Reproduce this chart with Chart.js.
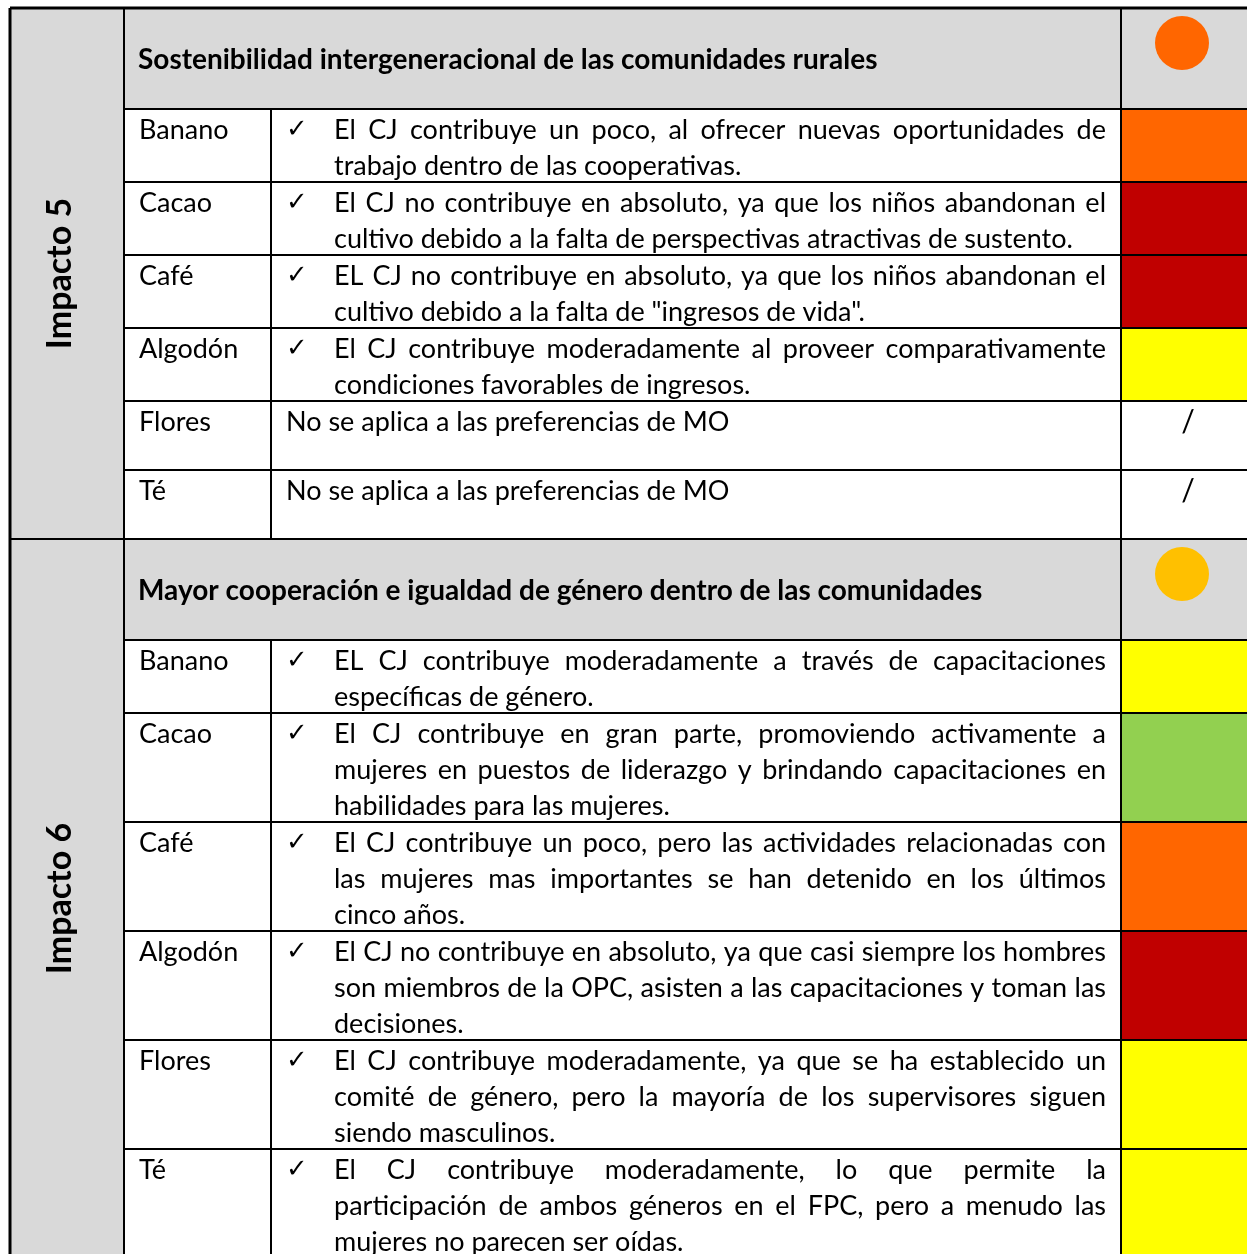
<!DOCTYPE html>
<html>
<head>
<meta charset="utf-8">
<script src="https://cdn.jsdelivr.net/npm/chart.js@4.4.1/dist/chart.umd.min.js"></script>
<style>
  html, body { margin: 0; padding: 0; background: #fff; }
  #wrap { width: 1247px; height: 1254px; position: relative; }
</style>
</head>
<body>
<div id="wrap"><canvas id="tabla"></canvas></div>
<script>
const ctx = document.getElementById('tabla');

// Data
const impactos = ['Impacto 5', 'Impacto 6'];
const titulos = [
    'Sostenibilidad intergeneracional de las comunidades rurales',
    'Mayor cooperación e igualdad de género dentro de las comunidades'
];
const nivelesImpacto = ['naranja', 'ambar'];
const productos = ['Banano', 'Cacao', 'Café', 'Algodón', 'Flores', 'Té'];

const textos5 = [
    ['El CJ contribuye un poco, al ofrecer nuevas oportunidades de', 'trabajo dentro de las cooperativas.'],
    ['El CJ no contribuye en absoluto, ya que los niños abandonan el', 'cultivo debido a la falta de perspectivas atractivas de sustento.'],
    ['EL CJ no contribuye en absoluto, ya que los niños abandonan el', 'cultivo debido a la falta de "ingresos de vida".'],
    ['El CJ contribuye moderadamente al proveer comparativamente', 'condiciones favorables de ingresos.'],
    ['No se aplica a las preferencias de MO'],
    ['No se aplica a las preferencias de MO']
];
const valoracion5 = ['naranja', 'rojo', 'rojo', 'amarillo', '/', '/'];

const textos6 = [
    ['EL CJ contribuye moderadamente a través de capacitaciones', 'específicas de género.'],
    ['El CJ contribuye en gran parte, promoviendo activamente a', 'mujeres en puestos de liderazgo y brindando capacitaciones en', 'habilidades para las mujeres.'],
    ['El CJ contribuye un poco, pero las actividades relacionadas con', 'las mujeres mas importantes se han detenido en los últimos', 'cinco años.'],
    ['El CJ no contribuye en absoluto, ya que casi siempre los hombres', 'son miembros de la OPC, asisten a las capacitaciones y toman las', 'decisiones.'],
    ['El CJ contribuye moderadamente, ya que se ha establecido un', 'comité de género, pero la mayoría de los supervisores siguen', 'siendo masculinos.'],
    ['El CJ contribuye moderadamente, lo que permite la', 'participación de ambos géneros en el FPC, pero a menudo las', 'mujeres no parecen ser oídas.']
];
const valoracion6 = ['amarillo', 'verde', 'naranja', 'rojo', 'amarillo', 'amarillo'];

const colores = {
    rojo: '#c00000',
    naranja: '#ff6600',
    amarillo: '#ffff00',
    verde: '#92d050',
    ambar: '#ffc000'
};

// layout (in scale units, 1 unit = 1 px)
const columnas = [10, 124, 271, 1121, 1247];
const altoLinea = 36;
const altoCabecera = 101;
const filaMinima = 69;
const FUENTE = 'Lato';
const TAM = 27;

const bloques = impactos.map((nombre, i) => ({
    nombre: nombre,
    titulo: titulos[i],
    nivel: nivelesImpacto[i],
    textos: [textos5, textos6][i],
    valores: [valoracion5, valoracion6][i]
}));

const filas = [];
let cursor = 8;
bloques.forEach(b => {
    b.top = cursor;
    cursor += altoCabecera;
    productos.forEach((p, j) => {
        const h = Math.max(filaMinima, b.textos[j].length * altoLinea + 1);
        filas.push({ producto: p, lineas: b.textos[j], valor: b.valores[j], top: cursor, bottom: cursor + h });
        cursor += h;
    });
    b.bottom = cursor;
});

// coloured rating cells -> floating bars
const celdas = filas.filter(f => colores[f.valor]).map(f => ({
    type: 'bar',
    indexAxis: 'y',
    stack: 'celdas',
    data: [{ y: (f.top + f.bottom) / 2, x: [columnas[3], columnas[4] + 10] }],
    backgroundColor: colores[f.valor],
    barThickness: f.bottom - f.top,
    borderWidth: 0
}));

// impact level circles -> bubbles
const circulos = {
    type: 'bubble',
    data: bloques.map(b => ({ x: (columnas[3] + columnas[4]) / 2 - 2, y: b.top + 35, r: 27 })),
    backgroundColor: bloques.map(b => colores[b.nivel]),
    borderWidth: 0
};

function justificar(c, linea, x0, x1, y, estirar) {
    if (!estirar) {
        c.fillText(linea, x0, y);
        return;
    }
    const palabras = linea.split(' ');
    const anchos = palabras.map(p => c.measureText(p).width);
    const total = anchos.reduce((a, b) => a + b, 0);
    const hueco = (x1 - x0 - total) / (palabras.length - 1);
    let px = x0;
    palabras.forEach((p, i) => {
        c.fillText(p, px, y);
        px += anchos[i] + hueco;
    });
}

const tablaPlugin = {
    id: 'tabla',
    beforeDatasetsDraw(chart) {
        const c = chart.ctx;
        const { x, y } = chart.scales;
        c.save();
        c.fillStyle = '#d9d9d9';
        bloques.forEach(b => {
            const y0 = y.getPixelForValue(b.top);
            const y1 = y.getPixelForValue(b.bottom);
            const yh = y.getPixelForValue(b.top + altoCabecera);
            c.fillRect(x.getPixelForValue(columnas[0]), y0, x.getPixelForValue(columnas[1]) - x.getPixelForValue(columnas[0]), y1 - y0);
            c.fillRect(x.getPixelForValue(columnas[1]), y0, x.getPixelForValue(columnas[4]) - x.getPixelForValue(columnas[1]), yh - y0);
        });
        c.restore();
    },
    afterDatasetsDraw(chart) {
        const c = chart.ctx;
        const { x, y } = chart.scales;
        const X = v => x.getPixelForValue(v);
        const Y = v => y.getPixelForValue(v);
        const linea = (x0, y0, x1, y1, w) => {
            c.lineWidth = w;
            c.beginPath();
            c.moveTo(X(x0), Y(y0));
            c.lineTo(X(x1), Y(y1));
            c.stroke();
        };
        c.save();
        c.strokeStyle = '#000';
        c.fillStyle = '#000';
        c.textBaseline = 'alphabetic';

        bloques.forEach(b => {
            // grid
            linea(columnas[0], b.top, columnas[4], b.top, b.top === 8 ? 3 : 2);
            linea(columnas[1], b.top, columnas[1], b.bottom, 2);
            linea(columnas[3], b.top, columnas[3], b.bottom, 2);
            linea(columnas[2], b.top + altoCabecera, columnas[2], b.bottom, 2);

            // header title
            c.textAlign = 'left';
            c.font = 'bold 28px ' + FUENTE;
            c.fillText(b.titulo, X(138), Y(b.top + 61));

            // rotated label
            c.save();
            c.translate(X((columnas[0] + columnas[1]) / 2 - 7), Y((b.top + b.bottom) / 2));
            c.rotate(-Math.PI / 2);
            c.textAlign = 'center';
            c.textBaseline = 'middle';
            c.font = 'bold 34px ' + FUENTE;
            c.fillText(b.nombre, 0, 0);
            c.restore();
        });

        filas.forEach(f => {
            linea(columnas[1], f.top, columnas[4], f.top, 2);
            c.textAlign = 'left';
            c.font = TAM + 'px ' + FUENTE;
            c.fillText(f.producto, X(139), Y(f.top + 30));
            if (f.valor === '/') {
                c.fillText(f.lineas[0], X(286), Y(f.top + 30));
                c.textAlign = 'center';
                c.font = '30px ' + FUENTE;
                c.fillText('/', X(1188), Y(f.top + 31));
            } else {
                c.font = '26px "DejaVu Sans"';
                c.fillText('\u2713', X(286), Y(f.top + 28));
                c.font = TAM + 'px ' + FUENTE;
                f.lineas.forEach((l, i) => {
                    justificar(c, l, X(334), X(1106), Y(f.top + 30 + i * altoLinea), i < f.lineas.length - 1);
                });
            }
        });

        linea(columnas[0], 8, columnas[0], 1300, 3);
        c.restore();
    }
};

new Chart(ctx, {
    type: 'bar',
    data: {
        datasets: [circulos].concat(celdas)
    },
    options: {
        responsive: true,
        maintainAspectRatio: false,
        animation: false,
        events: [],
        indexAxis: 'y',
        layout: { padding: 0, autoPadding: false },
        plugins: {
            legend: { display: false },
            tooltip: { enabled: false }
        },
        scales: {
            x: { type: 'linear', display: false, min: 0, max: 1247, stacked: false, offset: false },
            y: { type: 'linear', display: false, min: 0, max: 1254, reverse: true, offset: false }
        }
    },
    plugins: [tablaPlugin]
});
</script>
</body>
</html>
